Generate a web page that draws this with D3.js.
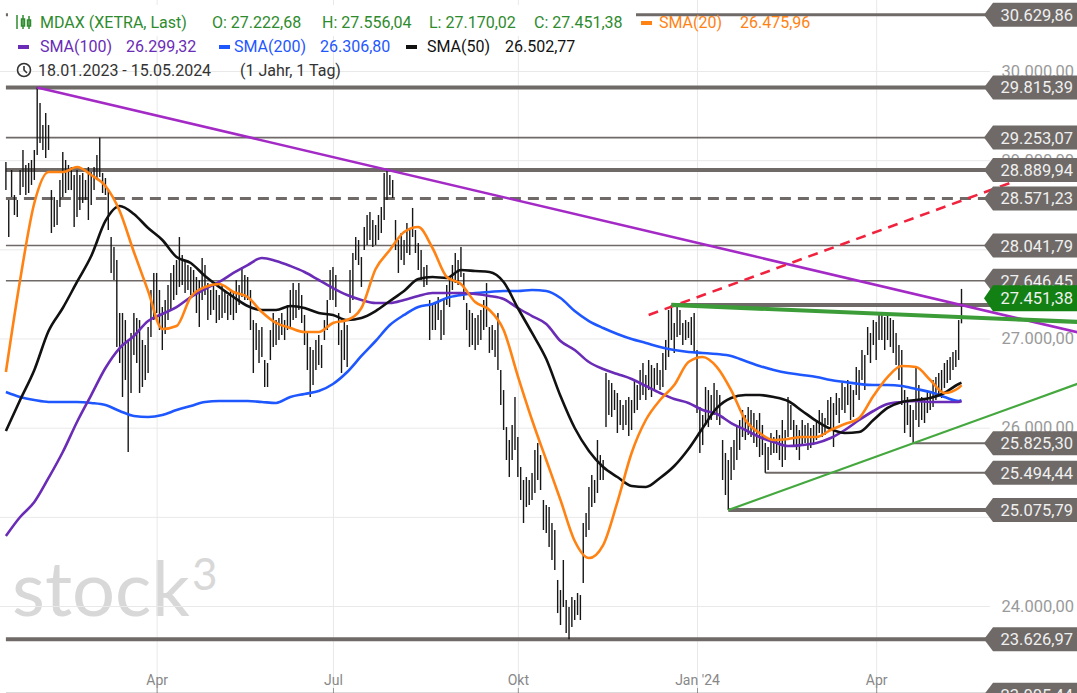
<!DOCTYPE html>
<html lang="de">
<head>
<meta charset="UTF-8">
<title>MDAX (XETRA, Last)</title>
<script src="https://d3js.org/d3.v7.min.js"></script>
<style>
  html, body { margin: 0; padding: 0; background: #fff; }
  svg { display: block; font-family: Roboto, "Liberation Sans", Arial, sans-serif; }
</style>
</head>
<body>
<div id="chart"></div>
<script>
const width = 1077, height = 693;

// trading calendar
const firstDay = "2023-01-18", lastDay = "2024-05-15";
const holidays = ["2023-04-07", "2023-04-10", "2023-05-01", "2023-12-25", "2023-12-26",
                  "2024-01-01", "2024-03-29", "2024-04-01", "2024-05-01"];

// daily high / low (index points)
const highs = [
 28979,28553,28890,28609,28553,28890,29114,28946,28968,29002,
 29114,29815,29641,29394,29529,29394,28665,28587,28553,28778,
 29092,29002,28946,28923,28834,28890,28834,28856,28778,28923,
 28867,28923,29058,29253,28856,28800,28665,28138,28026,27880,
 27286,27286,27207,26983,27062,27286,27230,27207,26983,26927,
 27129,27544,27735,27735,27544,27353,27432,27600,27735,27824,
 27880,28138,27936,27880,27824,27802,27768,27690,27656,27903,
 27824,27622,27544,27600,27544,27488,27600,27544,27488,27544,
 27510,27656,27600,27802,27712,27690,27544,27207,27174,27095,
 27129,26759,26725,27095,27286,27207,27230,27286,27207,27376,
 27544,27622,27544,27622,27488,27264,27062,26905,26871,26983,
 27039,26927,27207,27432,27768,27802,27712,27286,27095,27207,
 27151,27768,27959,28138,28105,27914,28251,28385,28419,28329,
 28273,28385,28475,28856,28890,28834,28778,28329,28105,28183,
 28105,28295,28217,28464,28217,28071,27992,27802,27824,27432,
 27376,27398,27465,27320,27432,27600,27656,27824,27959,27880,
 28026,27735,27398,27320,27286,27230,27264,27320,27432,27622,
 27129,27151,27095,27286,26647,26422,26007,25862,26030,26344,
 25895,25559,25413,25447,25413,25492,25750,25828,25693,25189,
 25133,25110,24931,24852,24292,24179,24516,24067,23989,24101,
 24067,24146,24123,24931,25043,25335,25469,25413,25862,25693,
 25637,26613,26535,26501,26422,26389,26310,26254,26310,26344,
 26310,26535,26479,26647,26725,26591,26759,26703,26669,26725,
 26647,26838,26983,27320,27376,27174,27353,27320,27174,27207,
 27185,27241,27286,26871,26232,26142,26456,26422,26366,26501,
 26422,26366,25862,25716,25637,25783,25862,26007,26086,26198,
 26142,26232,26198,26164,26086,26164,26030,25828,25783,25940,
 25895,25974,25917,26086,25974,26344,26254,26086,26030,25974,
 26086,26030,26052,25996,26030,26086,26198,26164,26108,26310,
 26344,26276,26389,26333,26501,26456,26535,26479,26422,26680,
 26647,26871,26815,27129,27062,27207,27185,27264,27286,27241,
 27264,27230,27207,27062,26927,26871,26422,26344,26254,26198,
 26680,26479,26344,26310,26422,26389,26535,26568,26613,26647,
 26725,26759,26793,26849,26871,27207,27556
];
const lows = [
 28665,28138,28587,28385,28363,28609,28699,28609,28632,28722,
 28778,29058,29193,29114,29024,29114,28183,28251,28273,28475,
 28587,28632,28665,28665,28251,28363,28441,28520,28553,28329,
 28497,28665,28778,28811,28632,28609,28217,27735,27656,26905,
 26725,26344,26535,25727,26389,26815,26725,26389,26456,26535,
 26613,27017,27207,27286,27095,26871,27051,27207,27320,27432,
 27488,27578,27600,27510,27544,27488,27510,27286,27129,27432,
 27488,27207,27264,27320,27174,27207,27230,27286,27207,27264,
 27207,27286,27376,27465,27432,27432,27095,26613,26871,26725,
 26793,26456,26456,26759,26905,26927,26983,27039,26983,27095,
 27129,27207,27230,27320,27174,26927,26647,26344,26479,26647,
 26703,26669,26983,27095,27432,27432,27353,26927,26613,26759,
 26680,27286,27432,27880,27824,27578,27992,28049,28105,28026,
 28049,28105,28183,28329,28553,28609,28576,27992,27735,27880,
 27824,27959,27936,28138,27959,27768,27656,27578,27600,26983,
 27095,27095,27207,26983,27039,27376,27353,27544,27622,27600,
 27690,27432,27095,26905,26927,26871,26927,26983,27095,27129,
 26838,26871,26793,26647,26254,25974,25637,25447,25637,25750,
 25447,25189,24931,25110,25133,25189,25267,25413,25301,24852,
 24819,24662,24516,24404,23921,23787,23989,23697,23627,23764,
 23843,23899,23843,24258,24774,24852,25110,25155,25267,25413,
 25413,26007,26142,26120,26198,25940,26030,25974,26030,25907,
 25974,26164,26198,26310,26366,26310,26422,26344,26422,26479,
 26422,26456,26647,26793,26983,26838,27017,27039,26927,26983,
 27006,26927,26838,26164,25716,25805,26030,26007,26086,26142,
 26086,26030,25413,25245,25076,25413,25525,25637,25750,25895,
 25862,25917,25895,25828,25783,25671,25693,25494,25525,25693,
 25716,25716,25637,25559,25637,25895,25974,25805,25750,25637,
 25805,25828,25750,25772,25805,25862,25940,25895,25917,26030,
 25974,25783,26142,26052,26198,26164,26254,26086,26120,26366,
 26310,26535,26422,26815,26725,26927,26759,26983,26983,26871,
 26983,26905,26838,26703,26535,26254,25940,26030,25895,25825,
 26086,26007,26086,26052,26164,26198,26232,26310,26366,26333,
 26445,26501,26535,26647,26680,26759,27170
];

// moving averages, sampled every 5th trading day (+ last day)
const smaIdx = d3.range(0, 336, 5).concat([336]);
const sma20 = [26624,27656,28520,28867,28867,28923,28834,28710,28430,27970,
 27533,27107,27140,27465,27578,27611,27522,27465,27297,27174,
 27118,27073,27073,27174,27207,27342,27779,27992,28194,28250,
 28015,27690,27611,27409,27320,27095,26579,26086,25637,25189,
 24729,24538,24684,25166,25716,26086,26310,26478,26736,26793,
 26680,26422,26086,25940,25862,25873,25895,25895,25974,26041,
 26108,26355,26568,26692,26680,26535,26389,26445,26476];
const sma50 = [25963,26310,26647,27084,27342,27634,27925,28318,28486,28396,
 28239,28105,27914,27847,27701,27578,27465,27364,27320,27320,
 27364,27342,27286,27264,27207,27230,27308,27421,27533,27667,
 27690,27679,27768,27757,27746,27634,27342,27062,26770,26355,
 25996,25738,25559,25447,25346,25335,25436,25570,25761,25996,
 26221,26333,26366,26366,26344,26299,26187,26075,25985,25940,
 25951,26086,26221,26288,26310,26333,26389,26490,26503];
const sma100 = [24785,24998,25166,25436,25727,26064,26366,26669,26893,27028,
 27196,27275,27353,27465,27555,27634,27735,27824,27903,27869,
 27813,27746,27656,27566,27488,27432,27398,27398,27432,27477,
 27510,27510,27510,27499,27477,27443,27342,27252,27163,26972,
 26871,26736,26658,26602,26546,26467,26389,26321,26277,26198,
 26153,26052,25974,25895,25839,25794,25806,25828,25884,25974,
 26086,26187,26265,26288,26299,26288,26288,26288,26299];
const sma200 = [26400,26344,26310,26288,26288,26288,26277,26254,26187,26131,
 26120,26142,26198,26243,26288,26299,26299,26299,26288,26277,
 26344,26378,26411,26490,26624,26804,26972,27151,27264,27353,
 27387,27454,27488,27510,27522,27533,27533,27544,27533,27454,
 27308,27196,27118,27051,26994,26950,26905,26871,26849,26838,
 26826,26804,26748,26692,26647,26613,26591,26568,26535,26512,
 26490,26478,26478,26467,26434,26400,26344,26299,26307];

// horizontal levels and the trading day they start on
const levels     = [30629.86, 29815.39, 29253.07, 28889.94, 28571.23, 28041.79, 27646.45,
                    27376, 25825.30, 25494.44, 25075.79, 23626.97, 23005.44];
const levelStart = [0, 0, 0, 0, 0, 0, 0, 234, 319, 267, 254, 0, 0];
const lastClose = 27451.38;

// trend lines [trading index, value]
const trendUpper = [[11, 29815.39], [377, 27068]];
const trendRed   = [[226, 27264], [353, 28744]];
const trendFlat  = [[234, 27376], [377, 27185]];
const trendLow   = [[254, 25075.79], [377, 26494]];

const yGrid = [23000, 24000, 25000, 26000, 27000, 28000, 29000, 30000];
const yLabels = [24000, 26000, 27000, 29000, 30000];   // the others sit under level tags
const xTickMonths = ["2023-04", "2023-07", "2023-10", "2024-01", "2024-04"];
const xTickLabels = ["Apr", "Jul", "Okt", "Jan '24", "Apr"];

// ---------------------------------------------------------------
const de = d3.formatLocale({ decimal: ",", thousands: ".", grouping: [3], currency: ["", ""] });
const fmt = de.format(",.2f");

const holidaySet = new Set(holidays);
const fmtDay = d3.timeFormat("%Y-%m-%d");
const days = d3.timeDay.range(new Date(firstDay + "T00:00"), d3.timeDay.offset(new Date(lastDay + "T00:00"), 1))
  .filter(d => d.getDay() !== 0 && d.getDay() !== 6 && !holidaySet.has(fmtDay(d)));

const bars = days.map((d, i) => ({ i, date: d, high: highs[i], low: lows[i] }));

const x = d3.scaleLinear().domain([0, days.length - 1]).range([5.9, 961.5]);
const y = d3.scaleLinear().domain([24000, 30000]).range([606, 71]);

const svg = d3.select("#chart").append("svg")
  .attr("width", width).attr("height", height);

const lineColor = "#6f6a67";
const plotRight = 990;

// watermark
const wm = svg.append("text").attr("x", 12).attr("y", 616)
  .attr("fill", "#d8d8d8").attr("font-family", "Lato, 'Open Sans', sans-serif")
  .attr("font-size", 76);
wm.append("tspan").text("stock");
wm.append("tspan").attr("font-size", 44).attr("dy", -26).attr("dx", 2).text("3");

// grid
const monthKey = d3.timeFormat("%Y-%m");
const xTickIdx = xTickMonths.map(m => days.findIndex(d => monthKey(d) === m));

svg.append("g").attr("class", "xgrid")
  .call(d3.axisBottom(x).tickValues(xTickIdx).tickSize(height).tickFormat(""))
  .call(g => g.select(".domain").remove())
  .call(g => g.selectAll("line").attr("stroke", "#e9e9e9"));

svg.append("g").attr("class", "ygrid")
  .call(d3.axisRight(y).tickValues(yGrid).tickSize(plotRight).tickFormat(""))
  .call(g => g.select(".domain").remove())
  .call(g => g.selectAll("line").attr("stroke", "#e9e9e9"));

// price axis labels
svg.append("g").attr("transform", `translate(1074,0)`)
  .call(d3.axisLeft(y).tickValues(yLabels).tickSize(0).tickPadding(0).tickFormat(fmt))
  .call(g => g.select(".domain").remove())
  .call(g => g.selectAll("text").attr("fill", "#9a9a9a").attr("font-size", 16.5)
    .attr("font-family", "Roboto, sans-serif"));

// time axis
svg.append("g").attr("transform", `translate(0,${height})`)
  .call(d3.axisTop(x).tickValues(xTickIdx).tickSize(5).tickPadding(0)
    .tickFormat((d, k) => xTickLabels[k]))
  .call(g => g.select(".domain").remove())
  .call(g => g.selectAll("line").attr("stroke", "#999"))
  .call(g => g.selectAll("text").attr("fill", "#888").attr("font-size", 14)
    .attr("font-family", "Roboto, sans-serif").attr("dy", "-0.2em"));

// horizontal levels
const levelW = { 30629.86: 3, 29815.39: 4, 29253.07: 1.8, 28889.94: 4, 28571.23: 3,
  28041.79: 1.5, 27646.45: 1.5, 27376: 4, 25825.30: 2, 25494.44: 2, 25075.79: 4,
  23626.97: 4, 23005.44: 4 };
svg.append("g").selectAll("line")
  .data(levels.map((v, k) => ({ v, start: levelStart[k] })))
  .join("line")
  .attr("x1", d => x(d.start)).attr("x2", plotRight)
  .attr("y1", d => y(d.v)).attr("y2", d => y(d.v))
  .attr("stroke", lineColor)
  .attr("stroke-width", d => levelW[d.v])
  .attr("stroke-dasharray", d => d.v === 28571.23 ? "11,7" : null);

// OHLC bars (high-low)
svg.append("g").selectAll("line")
  .data(bars)
  .join("line")
  .attr("x1", d => x(d.i)).attr("x2", d => x(d.i))
  .attr("y1", d => y(d.high)).attr("y2", d => y(d.low))
  .attr("stroke", "#161616").attr("stroke-width", 1.4);

// moving averages
const smaLine = d3.line().x(d => x(d[0])).y(d => y(d[1])).curve(d3.curveMonotoneX);
const smas = [
  { vals: sma200, color: "#1f57ff" },
  { vals: sma100, color: "#6a2cb6" },
  { vals: sma50, color: "#111111" },
  { vals: sma20, color: "#ff8212" }
];
svg.append("g").selectAll("path")
  .data(smas)
  .join("path")
  .attr("d", s => smaLine(smaIdx.map((k, j) => [k, s.vals[j]])))
  .attr("fill", "none").attr("stroke", s => s.color).attr("stroke-width", 2.6)
  .attr("stroke-linejoin", "round");

// trend lines
const trendLine = d3.line().x(d => x(d[0])).y(d => y(d[1]));
svg.append("path").attr("d", trendLine(trendUpper))
  .attr("stroke", "#a42ac6").attr("stroke-width", 2.6).attr("fill", "none");
svg.append("path").attr("d", trendLine(trendRed))
  .attr("stroke", "#f0233f").attr("stroke-width", 2.6).attr("fill", "none")
  .attr("stroke-dasharray", "10,7");
svg.append("path").attr("d", trendLine(trendFlat))
  .attr("stroke", "#3c9d38").attr("stroke-width", 4.2).attr("fill", "none");
svg.append("path").attr("d", trendLine(trendLow))
  .attr("stroke", "#45a83f").attr("stroke-width", 2.2).attr("fill", "none");

// level labels
function tag(v, color, h) {
  const cy = y(v), x0 = 984;
  const g = svg.append("g");
  g.append("path")
    .attr("d", `M${x0},${cy} L${x0 + 9},${cy - h / 2} L${width},${cy - h / 2} L${width},${cy + h / 2} L${x0 + 9},${cy + h / 2} Z`)
    .attr("fill", color);
  g.append("text").attr("x", 1073).attr("y", cy).attr("dy", "0.36em")
    .attr("text-anchor", "end").attr("fill", "#f0f0f0")
    .attr("font-size", 16.5).text(fmt(v));
}
levels.filter(v => v !== 27376).forEach(v => tag(v, lineColor, 24));
tag(lastClose, "#128012", 26);

// legend
const legend = svg.append("g").attr("font-size", 16);
legend.append("rect").attr("x", 8).attr("y", 5).attr("width", 628).attr("height", 31).attr("fill", "#fff");

const icon = legend.append("g").attr("stroke", "#2e8b2e").attr("stroke-width", 1.5).attr("fill", "none");
icon.append("line").attr("x1", 17).attr("x2", 17).attr("y1", 15).attr("y2", 29);
icon.append("rect").attr("x", 21.5).attr("y", 19).attr("width", 3).attr("height", 7);
icon.append("line").attr("x1", 23).attr("x2", 23).attr("y1", 15).attr("y2", 29);
icon.append("rect").attr("x", 27.5).attr("y", 20).attr("width", 3).attr("height", 6);
icon.append("line").attr("x1", 29).attr("x2", 29).attr("y1", 16).attr("y2", 29);

const row1 = [
  { t: "MDAX (XETRA, Last)", x: 40 }, { t: "O: 27.222,68", x: 212 },
  { t: "H: 27.556,04", x: 322 }, { t: "L: 27.170,02", x: 429 }, { t: "C: 27.451,38", x: 534 }
];
legend.selectAll(".r1").data(row1).join("text").attr("class", "r1")
  .attr("x", d => d.x).attr("y", 28).attr("fill", "#2e8b2e").text(d => d.t);

const smaLegend = [
  { name: "SMA(20)", val: 26475.96, color: "#ff8212", dx: 641, tx: 659, vx: 740, yy: 28 },
  { name: "SMA(100)", val: 26299.32, color: "#6a2cb6", dx: 18, tx: 40, vx: 126, yy: 52 },
  { name: "SMA(200)", val: 26306.80, color: "#1f57ff", dx: 219, tx: 234, vx: 320, yy: 52 },
  { name: "SMA(50)", val: 26502.77, color: "#111111", dx: 406, tx: 427, vx: 505, yy: 52 }
];
smaLegend.forEach(s => {
  legend.append("rect").attr("x", s.dx).attr("y", s.yy - 7).attr("width", 11).attr("height", 4).attr("fill", s.color);
  legend.append("text").attr("x", s.tx).attr("y", s.yy).attr("fill", s.color).text(s.name);
  legend.append("text").attr("x", s.vx).attr("y", s.yy).attr("fill", s.color).text(fmt(s.val));
});

const clock = legend.append("g").attr("stroke", "#333").attr("fill", "none").attr("stroke-width", 1.6);
clock.append("circle").attr("cx", 24).attr("cy", 70).attr("r", 6.5);
clock.append("path").attr("d", "M24,66 L24,70 L27,73");
legend.append("text").attr("x", 38).attr("y", 76).attr("fill", "#333")
  .text("18.01.2023 - 15.05.2024");
legend.append("text").attr("x", 240).attr("y", 76).attr("fill", "#333")
  .text("(1 Jahr, 1 Tag)");
</script>
</body>
</html>
